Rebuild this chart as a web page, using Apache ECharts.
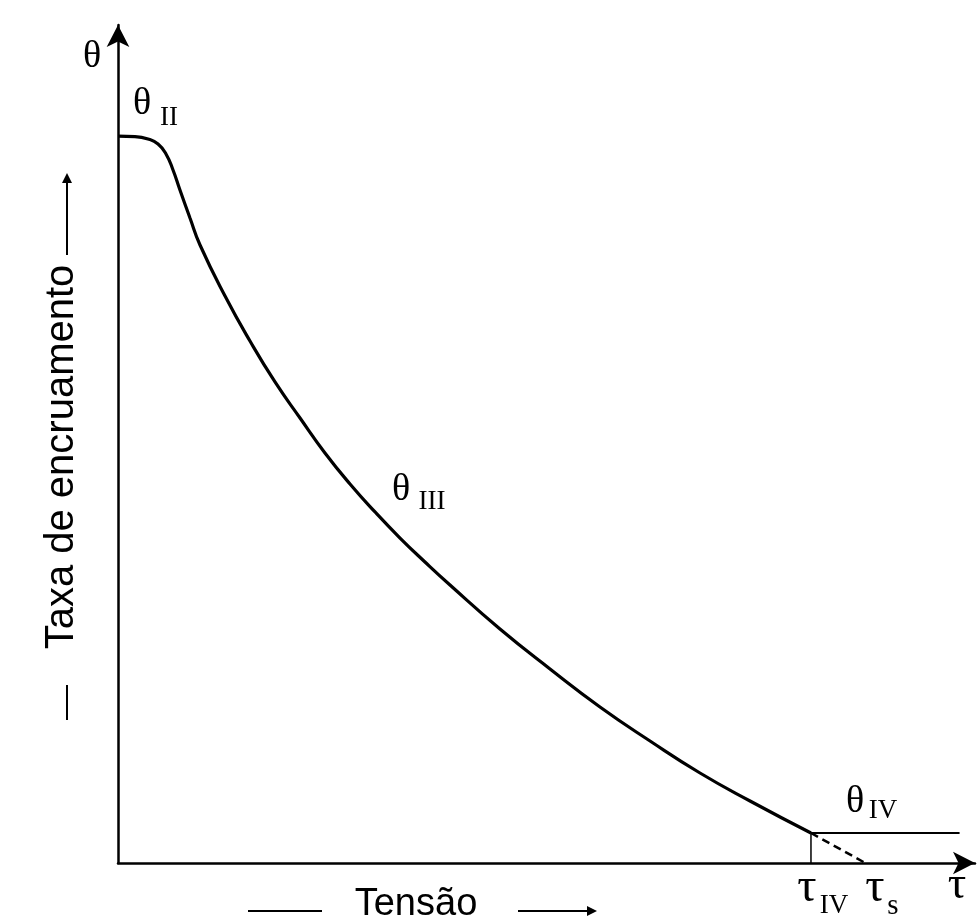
<!DOCTYPE html>
<html>
<head>
<meta charset="utf-8">
<script src="https://cdn.jsdelivr.net/npm/echarts@6/dist/echarts.min.js"></script>
<style>
  html, body { margin: 0; padding: 0; background: #fff; }
  #chart { width: 977px; height: 924px; }
</style>
</head>
<body>
<div id="chart"></div>
<script>
// tensão (τ) e taxa de encruamento (θ), escala 0-100
var curveTau   = [0, 1.98, 3.50, 4.67, 5.60, 6.42, 7.23, 8.40, 9.57, 12.49, 15.40, 18.32, 21.24, 24.15, 27.07, 29.99, 32.91, 35.82, 38.74, 44.57, 50.41, 56.24, 62.08, 67.91, 73.75, 80.86];
var curveTheta = [86.75, 86.69, 86.40, 85.80, 84.61, 82.70, 80.31, 76.97, 73.75, 67.66, 62.29, 57.40, 53.10, 48.93, 45.23, 41.89, 38.78, 35.92, 33.17, 27.92, 23.15, 18.62, 14.56, 10.74, 7.40, 3.58];
var tauIV = 80.86, thetaIV = 3.58;   // início do estágio IV
var tauS = 87.2;                     // extrapolação até θ = 0
var tauPlateauEnd = 98.2;

var serif = 'Liberation Serif';
var sans = 'Liberation Sans';

var chart = echarts.init(document.getElementById('chart'));

function pairs(xs, ys) {
  return xs.map(function (x, i) { return [x, ys[i]]; });
}

// θ ou τ com índice
function sym(cx, cy, main, mainSize, sub, sx, sy, subSize) {
  return [
    { type: 'text', x: cx, y: cy, style: { text: main, font: mainSize + 'px "' + serif + '"', fill: '#000', textAlign: 'center', textVerticalAlign: 'middle' } },
    { type: 'text', x: sx, y: sy, style: { text: sub, font: subSize + 'px "' + serif + '"', fill: '#000', textAlign: 'center', textVerticalAlign: 'middle' } }
  ];
}

var graphics = [];
graphics.push({ type: 'text', x: 92, y: 57, style: { text: 'θ', font: '38px "' + serif + '"', fill: '#000', textAlign: 'center', textVerticalAlign: 'middle' } });
graphics = graphics.concat(sym(142, 104, 'θ', 38, 'II', 169, 118, 27));
graphics = graphics.concat(sym(401, 490, 'θ', 38, 'III', 432, 502, 27));
graphics = graphics.concat(sym(855, 802, 'θ', 38, 'IV', 883, 811, 27));
graphics = graphics.concat(sym(807, 888, 'τ', 48, 'IV', 834, 906, 27));
graphics = graphics.concat(sym(875, 888, 'τ', 48, 's', 893, 906, 29));
graphics.push({ type: 'text', x: 957, y: 886, style: { text: 'τ', font: '46px "' + serif + '"', fill: '#000', textAlign: 'center', textVerticalAlign: 'middle' } });

// título do eixo x
graphics.push({ type: 'text', x: 416, y: 905, style: { text: 'Tensão', font: '38px "' + sans + '"', fill: '#000', textAlign: 'center', textVerticalAlign: 'middle' } });
graphics.push({ type: 'line', shape: { x1: 248, y1: 911, x2: 322, y2: 911 }, style: { stroke: '#000', lineWidth: 2 } });
graphics.push({ type: 'line', shape: { x1: 518, y1: 911, x2: 590, y2: 911 }, style: { stroke: '#000', lineWidth: 2 } });
graphics.push({ type: 'polygon', shape: { points: [[597, 911], [587, 906], [587, 916]] }, style: { fill: '#000' } });

// título do eixo y
graphics.push({ type: 'text', x: 62, y: 457, rotation: Math.PI / 2, style: { text: 'Taxa de encruamento', font: '40px "' + sans + '"', fill: '#000', textAlign: 'center', textVerticalAlign: 'middle' } });
graphics.push({ type: 'line', shape: { x1: 67, y1: 255, x2: 67, y2: 180 }, style: { stroke: '#000', lineWidth: 2 } });
graphics.push({ type: 'polygon', shape: { points: [[67, 173], [62, 183], [72, 183]] }, style: { fill: '#000' } });
graphics.push({ type: 'line', shape: { x1: 67, y1: 685, x2: 67, y2: 720 }, style: { stroke: '#000', lineWidth: 2 } });

var axisCommon = {
  type: 'value',
  min: 0,
  max: 100,
  axisLine: { show: true, symbol: ['none', 'arrow'], symbolSize: [17, 22], lineStyle: { color: '#000', width: 2.5 } },
  axisTick: { show: false },
  axisLabel: { show: false },
  splitLine: { show: false }
};

var option = {
  backgroundColor: '#fff',
  animation: false,
  grid: { left: 118, right: 2, top: 25, bottom: 61 },
  xAxis: axisCommon,
  yAxis: axisCommon,
  series: [
    {
      name: 'θ',
      type: 'line',
      data: pairs(curveTau, curveTheta),
      smooth: 0.5,
      showSymbol: false,
      lineStyle: { color: '#000', width: 3.2 }
    },
    {
      name: 'θIV',
      type: 'line',
      data: [[tauIV, thetaIV], [tauPlateauEnd, thetaIV]],
      showSymbol: false,
      lineStyle: { color: '#000', width: 2 }
    },
    {
      name: 'extrapolação',
      type: 'line',
      data: [[tauIV, thetaIV], [tauS, 0]],
      showSymbol: false,
      lineStyle: { color: '#000', width: 2.5, type: [8, 5] }
    },
    {
      name: 'τIV',
      type: 'line',
      data: [[tauIV, 0], [tauIV, thetaIV]],
      showSymbol: false,
      lineStyle: { color: '#000', width: 1.5 }
    }
  ],
  graphic: graphics
};

chart.setOption(option);
</script>
</body>
</html>
